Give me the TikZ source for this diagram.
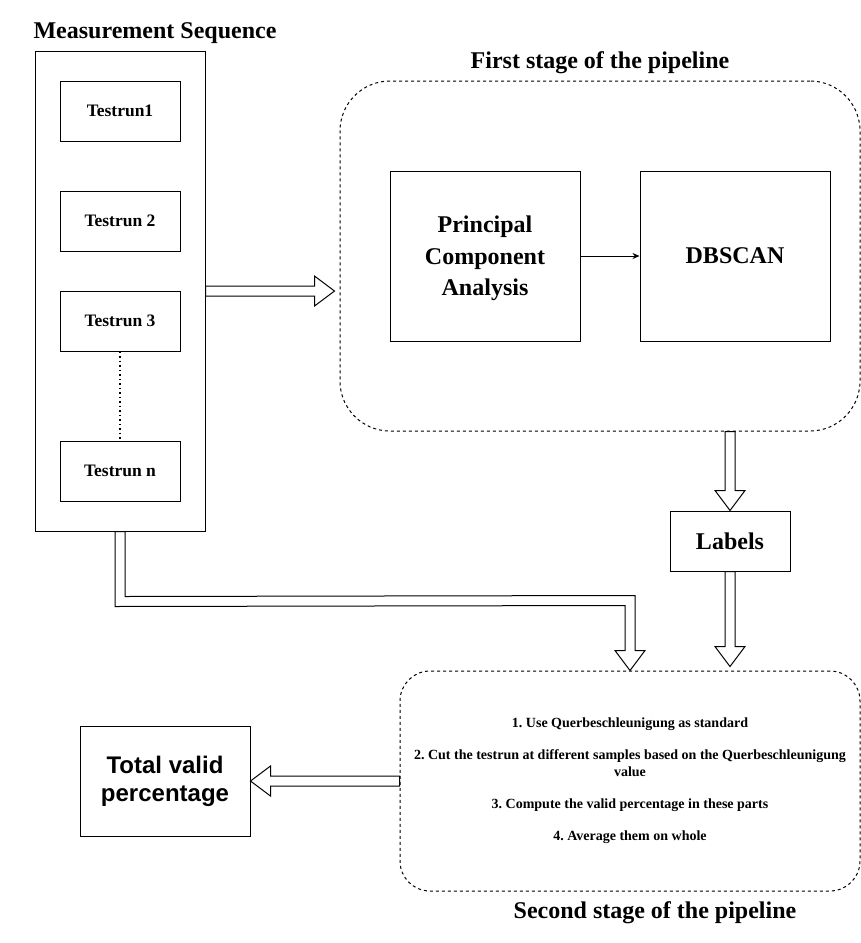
\documentclass[tikz,border=0pt]{standalone}
\usepackage{fontspec}
\setmainfont{Liberation Serif}
\newfontfamily\arialfont{Liberation Sans}
\usetikzlibrary{calc,arrows.meta}
\frenchspacing
\newcommand\blkdown[2]{\draw[barrow] ($(#1)+(-5,0)$) -- ($(#2)+(-5,-20)$) -- ($(#2)+(-15,-20)$) -- (#2) -- ($(#2)+(15,-20)$) -- ($(#2)+(5,-20)$) -- ($(#1)+(5,0)$) -- cycle;}
\begin{document}
\begin{tikzpicture}[x=1pt,y=-1pt,line width=1pt,
  rbox/.style={draw,rectangle,inner sep=0pt,align=center},
  small/.style={font=\bfseries\fontsize{17.5}{21}\selectfont},
  big/.style={font=\bfseries\fontsize{24}{31.5}\selectfont},
  titletext/.style={font=\bfseries\fontsize{24}{28}\selectfont},
  stagebox/.style={draw,rectangle,dash pattern=on 3pt off 3pt,line width=1pt,inner sep=0pt,align=center},
  barrow/.style={draw,fill=white,line width=1pt,line join=miter}]
\useasboundingbox (0,0) rectangle (861,943);

% left column
\node[titletext] (meastitle) at (155,33) {Measurement Sequence};
\node[rbox,minimum width=170,minimum height=480] (meas) at (120,291) {};
\node[rbox,small,minimum width=120,minimum height=60] (t1) at (120,111) {Testrun1};
\node[rbox,small,minimum width=120,minimum height=60] (t2) at (120,221) {Testrun 2};
\node[rbox,small,minimum width=120,minimum height=60] (t3) at (120,321) {Testrun 3};
\node[rbox,small,minimum width=120,minimum height=60] (tn) at (120,471) {Testrun n};
\draw[line width=1.5pt,dash pattern=on 1.5pt off 3pt] (t3.south) -- (tn.north);

% first stage
\node[titletext] (st1title) at (600,63) {First stage of the pipeline};
\node[stagebox,rounded corners=50pt,minimum width=520,minimum height=350] (st1) at (600,256) {};
\node[rbox,big,minimum width=190,minimum height=170,text depth=0pt] (pca) at (485,256) {Principal\\Component\\Analysis};
\node[rbox,big,minimum width=190,minimum height=170] (db) at (735,256) {DBSCAN};
\draw[line width=0.8pt,-{Stealth[length=7pt,width=6pt]}] (pca) -- (db);

% labels
\node[rbox,big,minimum width=120,minimum height=60] (lab) at (730,541) {Labels};

% second stage
\node[stagebox,rounded corners=30pt,minimum width=460,minimum height=220,
  font=\bfseries\fontsize{14}{17}\selectfont] (st2) at (630,781)
  {1. Use Querbeschleunigung as standard\\[15pt]
   2. Cut the testrun at different samples based on the Querbeschleunigung\\value\\[15pt]
   3. Compute the valid percentage in these parts\\[15pt]
   4. Average them on whole};
\node[titletext] (st2title) at (655,913) {Second stage of the pipeline};

% total
\node[rbox,minimum width=170,minimum height=110,font=\arialfont\bfseries\fontsize{24}{28}\selectfont] (tot) at (165,781) {Total valid\\percentage};

% block arrows
\coordinate (a1e) at ($(st1.west|-meas.east)+(-5,0)$);
\draw[barrow] ($(meas.east)+(0,-5)$) -- ($(a1e)+(-20,-5)$) -- ($(a1e)+(-20,-15)$) -- (a1e)
  -- ($(a1e)+(-20,15)$) -- ($(a1e)+(-20,5)$) -- ($(meas.east)+(0,5)$) -- cycle;

\coordinate (a2s) at (lab.north|-st1.south);
\blkdown{a2s}{lab.north}
\coordinate (a3e) at ($(lab.south|-st2.north)+(0,-4)$);
\blkdown{lab.south}{a3e}

\draw[barrow] ($(st2.west)+(0,-5)$) -- ($(tot.east)+(20,-5)$) -- ($(tot.east)+(20,-15)$) -- (tot.east)
  -- ($(tot.east)+(20,15)$) -- ($(tot.east)+(20,5)$) -- ($(st2.west)+(0,5)$) -- cycle;

\draw[barrow] ($(meas.south)+(-5,0)$) -- ($(meas.south)+(-5,75)$) -- ($(st2.north)+(-5,-65)$)
  -- ($(st2.north)+(-5,-20)$) -- ($(st2.north)+(-15,-20)$) -- (st2.north)
  -- ($(st2.north)+(15,-20)$) -- ($(st2.north)+(5,-20)$) -- ($(st2.north)+(5,-75)$)
  -- ($(meas.south)+(5,65)$) -- ($(meas.south)+(5,0)$) -- cycle;
\end{tikzpicture}
\end{document}
